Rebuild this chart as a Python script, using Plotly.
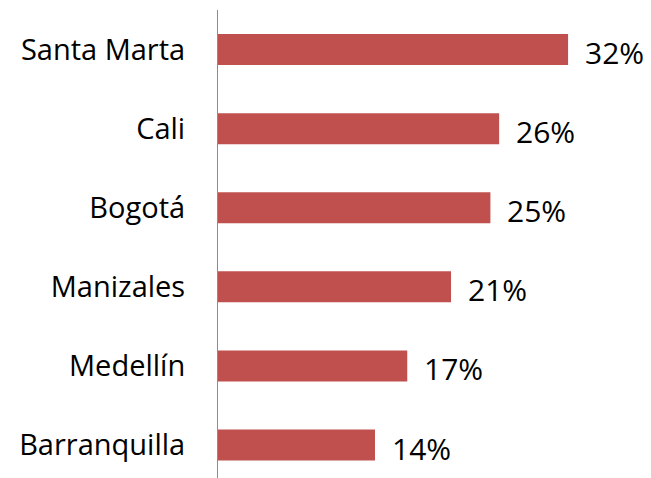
import plotly.graph_objects as go

cities = ["Barranquilla", "Medellín", "Manizales", "Bogotá", "Cali", "Santa Marta"]
values = [14.35, 17.3, 21.3, 24.9, 25.7, 32.0]
labels = ["14%", "17%", "21%", "25%", "26%", "32%"]

FONT = "Open Sans"

fig = go.Figure()
fig.add_trace(go.Bar(
    x=values, y=cities, orientation="h",
    marker=dict(color="#C0504D", line=dict(width=0)),
    width=0.392, hoverinfo="skip",
))

for c, v, t in zip(cities, values, labels):
    fig.add_annotation(x=v, y=c, text=t, showarrow=False, xanchor="left",
                       xshift=15, yshift=-3,
                       font=dict(family=FONT, size=30, color="#000000"))

fig.update_layout(
    width=643, height=470,
    margin=dict(l=210, r=0, t=2, b=0),
    paper_bgcolor="white", plot_bgcolor="white",
    showlegend=False,
    xaxis=dict(range=[0, 39.58], visible=False, showgrid=False, zeroline=False),
    yaxis=dict(range=[-0.417, 5.5], showgrid=False, zeroline=False,
               showline=True, linecolor="#8C8C8C", linewidth=1,
               ticks="", ticklabelstandoff=26,
               tickfont=dict(family=FONT, size=29, color="#000000")),
)

fig.write_html("out.html")
